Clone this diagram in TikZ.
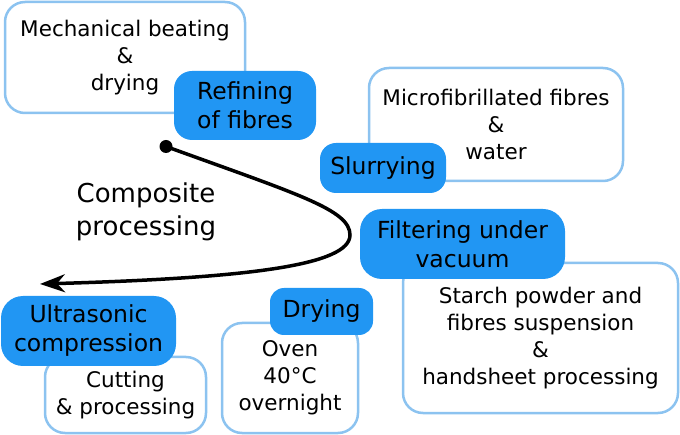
\documentclass[tikz,border=0pt]{standalone}
\usepackage{fontspec}
\setmainfont{DejaVu Sans}
\usetikzlibrary{arrows.meta}
\definecolor{stageblue}{RGB}{33,150,243}
\definecolor{noteblue}{RGB}{140,195,240}
\tikzset{
	notebox/.style={draw=noteblue, line width=2.5pt, rounded corners=20pt, fill=white,
		inner sep=0pt, align=center, font=\fontsize{21.5}{27}\selectfont},
	stagebox/.style={fill=stageblue, rounded corners=18pt,
		inner sep=0pt, align=center, font=\fontsize{23.5}{29}\selectfont},
}

\begin{document}
\begin{tikzpicture}[x=1pt,y=-1pt]
	\useasboundingbox (0,0) rectangle (680,435);

	% notes
	\node[notebox, minimum width=240pt, minimum height=111pt] (beating) at (125,57.5) {Mechanical beating\\\&\\drying};
	\node[notebox, minimum width=254pt, minimum height=113pt] (microfibres) at (496,124.5) {Microfibrillated fibres\\\&\\water};
	\node[notebox, minimum width=275pt, minimum height=150pt] (starch) at (540.5,338) {Starch powder and\\fibres suspension\\\&\\handsheet processing};
	\node[notebox, minimum width=136pt, minimum height=110pt] (oven) at (290,378) {Oven\\40°C\\overnight};
	\node[notebox, minimum width=161pt, minimum height=76pt] (cutting) at (125.5,395) {Cutting\\\& processing};

	% stages
	\node[stagebox, minimum width=142pt, minimum height=69pt] (refining) at (245,105.5) {Refining\\of fibres};
	\node[stagebox, minimum width=126pt, minimum height=50pt, rounded corners=16pt] (slurrying) at (383,168) {Slurrying};
	\node[stagebox, minimum width=205pt, minimum height=70pt, rounded corners=22pt] (filtering) at (462.5,244) {Filtering under\\vacuum};
	\node[stagebox, minimum width=103pt, minimum height=47pt, rounded corners=14pt] (drying) at (321.5,311.5) {Drying};
	\node[stagebox, minimum width=175pt, minimum height=70pt, rounded corners=22pt] (ultrasonic) at (88.5,331) {Ultrasonic\\compression};

	% process arrow
	\node[circle, fill=black, inner sep=0pt, minimum size=13pt] (start) at (166,146.5) {};
	\coordinate (bend) at (350,235);
	\coordinate (finish) at (40,284);
	\draw[line width=3.5pt, -{Stealth[length=25pt,width=18pt,inset=8pt]}]
		(start.center) .. controls (300,195) and (350,210) .. (bend)
		.. controls (350,265) and (250,278) .. (finish);
	\node[font=\fontsize{26}{33}\selectfont, align=center] (composite) at (146,212) {Composite\\processing};
\end{tikzpicture}
\end{document}
